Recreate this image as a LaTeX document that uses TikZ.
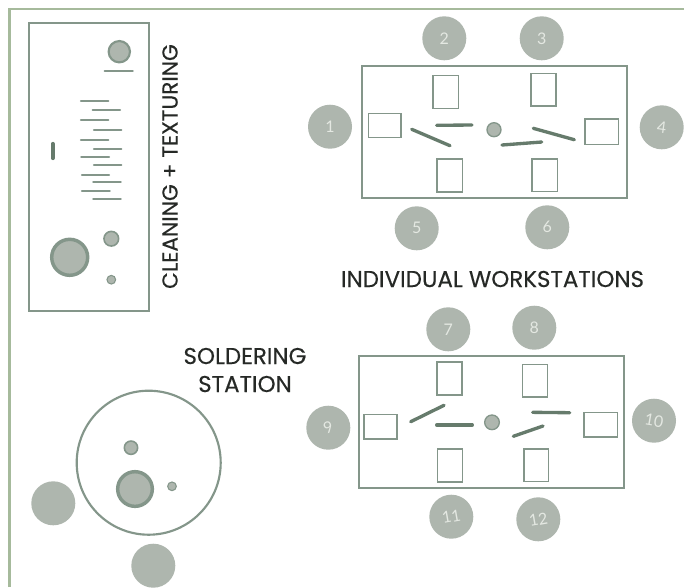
\documentclass[tikz,border=0pt]{standalone}
\usepackage{fontspec}
\setmainfont{Poppins}
\newfontfamily\handfont{Lato}
\newfontfamily\titlefont{Poppins}[FakeBold=0.25]
\definecolor{seatc}{HTML}{AEB6AE}
\definecolor{edgec}{HTML}{84968A}
\definecolor{barc}{HTML}{667B6C}
\definecolor{framec}{HTML}{A6BA9C}
\definecolor{numc}{HTML}{E4E8E2}
\definecolor{inkc}{HTML}{262926}
\tikzset{
  x=0.75pt,y=-0.75pt,
  seat/.style={circle,fill=seatc,draw=none,minimum size=33pt,inner sep=0pt,text=numc,font=\handfont\fontsize{12}{12}\selectfont},
  tablebox/.style={draw=edgec,line width=1.6pt},
  monitor/.style={draw=edgec,line width=1.2pt},
  bar/.style={draw=barc,line width=2.5pt,line cap=round},
  rulebar/.style={draw=edgec,line width=1.7pt,line cap=round},
  disc/.style={circle,fill=seatc,draw=edgec,inner sep=0pt},
  title/.style={text=inkc,font=\titlefont\fontsize{17.2}{21}\selectfont,align=center,inner sep=0pt},
}
\begin{document}
\begin{tikzpicture}
\useasboundingbox (0,0) rectangle (684,587);
\fill[white] (0,0) rectangle (684,587);
\draw[framec,line width=2.2pt] (9.5,587) -- (9.5,9) -- (684,9);

% cleaning + texturing
\draw[tablebox] (29.3,23) rectangle (149.3,310.7);
\node[disc,line width=1.6pt,minimum size=16pt] (c1) at (119.3,51.7) {};
\draw[rulebar] (104.7,71) -- (132.7,71);
\foreach \yy/\xa/\xb in {100.7/81/108.3, 110.3/92.7/120, 120.3/81/108.3, 130/94/121.3, 140/81/108.3, 148.7/94/121.3, 157/81.3/109, 165/94/121.3, 174.7/82/109, 182.3/93.3/120.7, 191/82/109.7, 199.3/93.3/120.7}
  \draw[rulebar] (\xa,\yy) -- (\xb,\yy);
\draw[barc,line width=3.2pt,line cap=round] (52.7,144) -- (52.7,158);
\node[disc,line width=2.6pt,minimum size=27pt] (c2) at (69.7,257.3) {};
\node[disc,line width=1.2pt,minimum size=11pt] (c3) at (111.3,238.7) {};
\node[disc,line width=0.8pt,minimum size=6.5pt] (c4) at (111.3,279.7) {};
\node[title,rotate=90,font=\titlefont\fontsize{16.3}{21}\selectfont] (ttex) at (170,166.5) {CLEANING + TEXTURING};

% upper table
\draw[tablebox] (361.7,66) rectangle (627.3,198.3);
\draw[monitor] (432.7,75.3) rectangle (458.3,108.3);
\draw[monitor] (530.7,73.3) rectangle (556,106);
\draw[monitor] (368.3,113.3) rectangle (401,137.3);
\draw[monitor] (585,119) rectangle (618.3,144.3);
\draw[monitor] (436.7,159) rectangle (462.3,192);
\draw[monitor] (532,158.7) rectangle (557.3,191.3);
\draw[bar] (436.7,125.3) -- (472,125);
\draw[bar] (411.7,129.3) -- (450,145.7);
\draw[bar] (502,145) -- (541.7,142);
\draw[bar] (533.3,128.3) -- (574.3,139.7);
\node[disc,line width=1pt,minimum size=10.5pt] (d1) at (494,129.7) {};
\node[seat] (s1) at (330,126.7) {1};
\node[seat] (s2) at (444.3,38.3) {2};
\node[seat] (s3) at (541.7,38.3) {3};
\node[seat] (s4) at (661.7,127.3) {\rotatebox{-8}{4}};
\node[seat] (s5) at (416.7,228.3) {5};
\node[seat] (s6) at (547.3,227.3) {6};

\node[title] (twork) at (492.5,279) {INDIVIDUAL WORKSTATIONS};

% lower table
\draw[tablebox] (359,356) rectangle (624.3,488);
\draw[monitor] (436.7,362) rectangle (461.7,394.7);
\draw[monitor] (522.3,364.3) rectangle (547.3,397);
\draw[monitor] (363.7,414.3) rectangle (397,438.7);
\draw[monitor] (583.7,412.3) rectangle (617.3,436.7);
\draw[monitor] (437.3,449) rectangle (462.3,482);
\draw[monitor] (523.7,448.7) rectangle (548.3,481.3);
\draw[bar] (410.7,421.7) -- (444,405.3);
\draw[bar] (436.7,425) -- (472.3,425);
\draw[bar] (532.7,412.3) -- (569.7,412.7);
\draw[bar] (513.3,436.3) -- (543,426);
\node[disc,line width=1pt,minimum size=11pt] (d2) at (492,422.3) {};
\node[seat] (s7) at (448.3,329.3) {7};
\node[seat] (s8) at (534.3,327.7) {8};
\node[seat] (s9) at (328.3,427.7) {\rotatebox{20}{9}};
\node[seat] (s10) at (654,420.7) {\rotatebox{-10}{10}};
\node[seat] (s11) at (451.3,516.7) {\rotatebox{10}{11}};
\node[seat] (s12) at (538.3,519.3) {\rotatebox{10}{12}};

% soldering station
\node[title] (tsol) at (245,370) {SOLDERING\\STATION};
\draw[tablebox] (148.7,462.7) circle[radius=54pt];
\node[disc,line width=1.2pt,minimum size=10pt] (e1) at (131,447.7) {};
\node[disc,line width=2.6pt,minimum size=26pt] (e2) at (135,489) {};
\node[disc,line width=0.8pt,minimum size=6.5pt] (e3) at (172,486.3) {};
\node[seat] (s13) at (53.3,503.3) {};
\node[seat] (s14) at (153.3,565.7) {};
\end{tikzpicture}
\end{document}
